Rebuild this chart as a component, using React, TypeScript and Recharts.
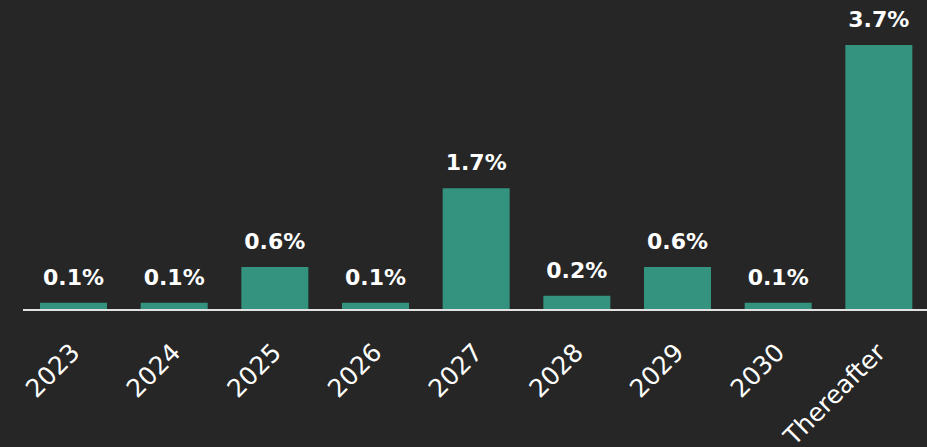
import React from "react";
import { BarChart, Bar, XAxis, YAxis, LabelList } from "recharts";

const categories = ["2023", "2024", "2025", "2026", "2027", "2028", "2029", "2030", "Thereafter"];
const values = [0.1, 0.1, 0.6, 0.1, 1.7, 0.2, 0.6, 0.1, 3.7];
const labels = ["0.1%", "0.1%", "0.6%", "0.1%", "1.7%", "0.2%", "0.6%", "0.1%", "3.7%"];

const data = categories.map((c, i) => ({ name: c, value: values[i], label: labels[i] }));

const FONT = "'DejaVu Sans', sans-serif";

const Tick = (props: any) => {
  const { x, y, payload } = props;
  return (
    <g transform={`translate(${x + 8},${y + 44})`}>
      <text textAnchor="end" transform="rotate(-45)" fill="#ffffff" fontSize={25} fontFamily={FONT}>
        {payload.value}
      </text>
    </g>
  );
};

const Label = (props: any) => {
  const { x, y, width, value } = props;
  return (
    <text x={x + width / 2} y={y - 18} textAnchor="middle" fill="#ffffff" fontSize={22} fontWeight="bold" fontFamily={FONT}>
      {value}
    </text>
  );
};

export default function App() {
  return (
    <div style={{ position: "fixed", left: 0, top: 0, width: 927, height: 447, overflow: "hidden", background: "#262626" }}>
      <BarChart width={929} height={447} data={data} margin={{ top: 0, right: 0, bottom: 0, left: 23 }}>
        <XAxis
          dataKey="name"
          height={137}
          tickSize={0}
          tickMargin={0}
          tickLine={false}
          interval={0}
          axisLine={{ stroke: "#e2e2e2", strokeWidth: 2 }}
          tick={<Tick />}
        />
        <YAxis hide domain={[0, 4.33]} />
        <Bar dataKey="value" fill="#34937e" barSize={67} isAnimationActive={false}>
          <LabelList dataKey="label" content={<Label />} />
        </Bar>
      </BarChart>
    </div>
  );
}
